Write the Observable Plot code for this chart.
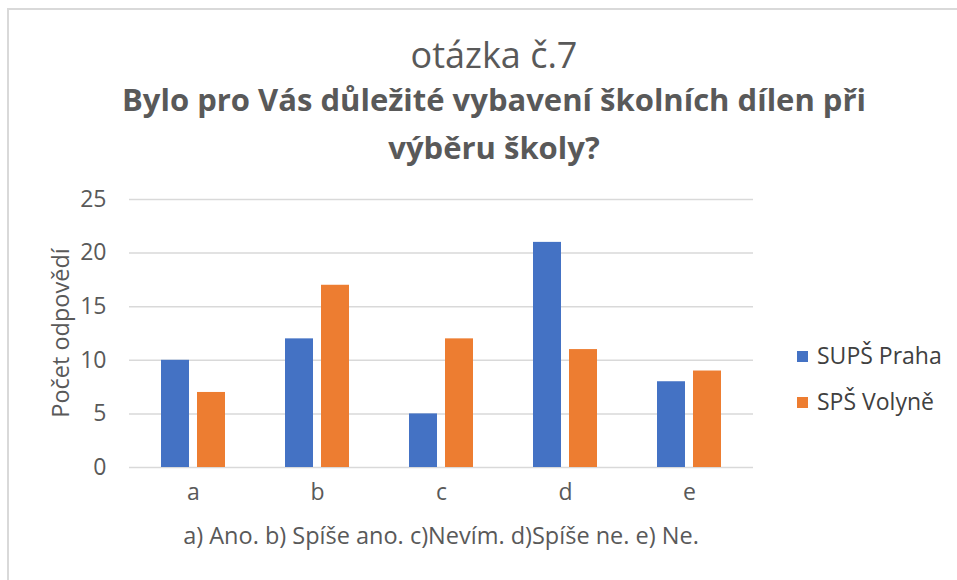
<!DOCTYPE html>
<html>
<head>
<meta charset="utf-8">
<script src="https://cdn.jsdelivr.net/npm/d3@7"></script>
<script src="https://cdn.jsdelivr.net/npm/@observablehq/plot@0.6"></script>
<style>
  html, body { margin: 0; padding: 0; background: #fff; overflow: hidden; }
  body { width: 957px; height: 580px; position: relative; font-family: "Open Sans", sans-serif; }
  #frame { position: absolute; left: 7px; top: 8px; width: 1000px; height: 700px; border: 2px solid #d9d9d9; box-sizing: border-box; }
  .t { position: absolute; left: 0; width: 988px; text-align: center; color: #595959; white-space: nowrap; }
  #t1 { top: 30px; font-size: 36px; line-height: 50px; }
  #t2 { top: 75px; font-size: 31px; font-weight: bold; line-height: 48px; }
  #plot { position: absolute; left: 0; top: 180px; }
  #xlabel { position: absolute; left: 129px; width: 624px; top: 519px; text-align: center; font-size: 23.5px; line-height: 32px; color: #595959; white-space: nowrap; }
  #ylabel { position: absolute; left: 60px; top: 333px; transform: translate(-50%, -50%) rotate(-90deg); font-size: 23.5px; line-height: 32px; color: #595959; white-space: nowrap; }
  .leg { position: absolute; left: 797px; font-size: 23px; line-height: 32px; color: #404040; white-space: nowrap; }
  .leg span.sw { display: inline-block; width: 11px; height: 11px; margin-right: 9px; vertical-align: 2px; }
</style>
</head>
<body>
<div id="frame"></div>
<div class="t" id="t1">otázka č.7</div>
<div class="t" id="t2">Bylo pro Vás důležité vybavení školních dílen při<br>výběru školy?</div>
<div id="plot"></div>
<div id="ylabel">Počet odpovědí</div>
<div id="xlabel">a) Ano. b) Spíše ano. c)Nevím. d)Spíše ne. e) Ne.</div>
<div class="leg" id="leg1" style="top:339px"><span class="sw" style="background:#4472C4"></span>SUPŠ Praha</div>
<div class="leg" id="leg2" style="top:385px"><span class="sw" style="background:#ED7D31"></span>SPŠ Volyně</div>
<script>
const categories = ["a", "b", "c", "d", "e"];
const series = ["SUPŠ Praha", "SPŠ Volyně"];
const praha = [10, 12, 5, 21, 8];
const volyne = [7, 17, 12, 11, 9];
const colors = ["#4472C4", "#ED7D31"];
const yTicks = [0, 5, 10, 15, 20, 25];

const rowsPraha = categories.map((c, i) => ({cat: c, v: praha[i]}));
const rowsVolyne = categories.map((c, i) => ({cat: c, v: volyne[i]}));

const chart = Plot.plot({
  width: 800,
  height: 337,
  marginLeft: 129,
  marginRight: 47,
  marginTop: 19,
  marginBottom: 50,
  style: {fontFamily: "'Open Sans', sans-serif", fontSize: "23px", color: "#595959", background: "transparent"},
  x: {domain: categories, paddingInner: 0.487, paddingOuter: 0.2435, label: null, tickSize: 0, tickPadding: 16},
  y: {domain: [0, 25], ticks: yTicks, label: null, tickSize: 0, tickPadding: 23},
  marks: [
    Plot.gridY(yTicks, {stroke: "#d9d9d9", strokeOpacity: 1, strokeWidth: 1.5}),
    Plot.barY(rowsPraha, {x: "cat", y: "v", fill: colors[0], insetRight: 36, insetLeft: 0}),
    Plot.barY(rowsVolyne, {x: "cat", y: "v", fill: colors[1], insetLeft: 36, insetRight: 0})
  ]
});
document.getElementById("plot").appendChild(chart);
</script>
</body>
</html>
